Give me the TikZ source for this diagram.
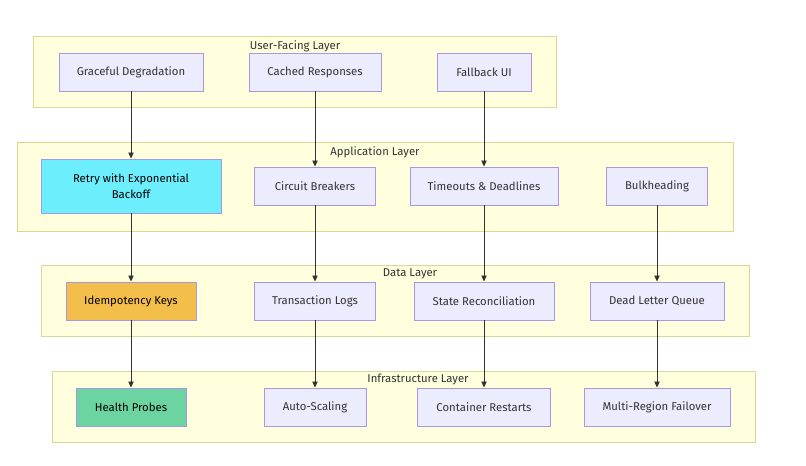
\documentclass[tikz,border=0pt]{standalone}
\usepackage{fontspec}
\setmainfont{Fira Sans}
\usetikzlibrary{arrows.meta}
\definecolor{nodefill}{HTML}{ECECFF}
\definecolor{nodeline}{HTML}{A996E4}
\definecolor{layerfill}{HTML}{FFFFDE}
\definecolor{layerline}{HTML}{D8D89A}
\definecolor{ink}{HTML}{333333}
\definecolor{retryfill}{HTML}{6CEEFC}
\definecolor{idemfill}{HTML}{F4BE4B}
\definecolor{probefill}{HTML}{6CD4A0}
\tikzset{
  layer/.style={fill=layerfill, draw=layerline, line width=0.7pt},
  layerlab/.style={text=ink, anchor=north, inner sep=0pt, font=\fontsize{8.5}{10}\selectfont},
  item/.style={fill=nodefill, draw=nodeline, line width=0.7pt, text=ink, minimum height=28.5pt,
    inner sep=0pt, align=center, font=\fontsize{8.5}{12}\selectfont},
  flow/.style={-{Triangle[length=4.5pt,width=4pt]}, ink, line width=0.6pt},
}

\begin{document}
\begin{tikzpicture}[x=0.75pt, y=-0.75pt]
  \useasboundingbox[fill=white] (0,0) rectangle (806,466);

  % layers
  \draw[layer] (33,36) rectangle (556,107);
  \node[layerlab] (userlab) at (295,40) {User-Facing Layer};
  \draw[layer] (17,142) rectangle (733,231);
  \node[layerlab] (applab) at (375,146) {Application Layer};
  \draw[layer] (41,265) rectangle (749,336);
  \node[layerlab] (datalab) at (410,268) {Data Layer};
  \draw[layer] (52,371) rectangle (755,442);
  \node[layerlab] (infralab) at (418,374) {Infrastructure Layer};

  % user-facing
  \node[item, minimum width=108pt] (degrade) at (131,72) {Graceful Degradation};
  \node[item, minimum width=99pt] (cached) at (315,72) {Cached Responses};
  \node[item, minimum width=70.5pt] (fallback) at (484,72) {Fallback UI};

  % application
  \node[item, minimum width=135pt, minimum height=40.5pt, fill=retryfill, text=black]
    (retry) at (131,186) {Retry with Exponential\\Backoff};
  \node[item, minimum width=91pt] (breaker) at (315,186) {Circuit Breakers};
  \node[item, minimum width=111pt] (timeout) at (484,186) {Timeouts \& Deadlines};
  \node[item, minimum width=76pt] (bulk) at (657,186) {Bulkheading};

  % data
  \node[item, minimum width=97.5pt, fill=idemfill, text=black] (idem) at (131,301) {Idempotency Keys};
  \node[item, minimum width=91pt] (txlog) at (315,301) {Transaction Logs};
  \node[item, minimum width=105pt] (recon) at (484,301) {State Reconciliation};
  \node[item, minimum width=100.5pt] (dlq) at (657,301) {Dead Letter Queue};

  % infrastructure
  \node[item, minimum width=82.5pt, fill=probefill, text=black] (probes) at (131,407) {Health Probes};
  \node[item, minimum width=76.5pt] (scale) at (315,407) {Auto-Scaling};
  \node[item, minimum width=100pt] (restart) at (484,407) {Container Restarts};
  \node[item, minimum width=109.5pt] (region) at (657,407) {Multi-Region Failover};

  % edges
  \foreach \a/\b in {degrade/retry, cached/breaker, fallback/timeout,
                     retry/idem, breaker/txlog, timeout/recon, bulk/dlq,
                     idem/probes, txlog/scale, recon/restart, dlq/region}{
    \draw[flow] (\a.south) -- (\b.north);
  }
\end{tikzpicture}
\end{document}
